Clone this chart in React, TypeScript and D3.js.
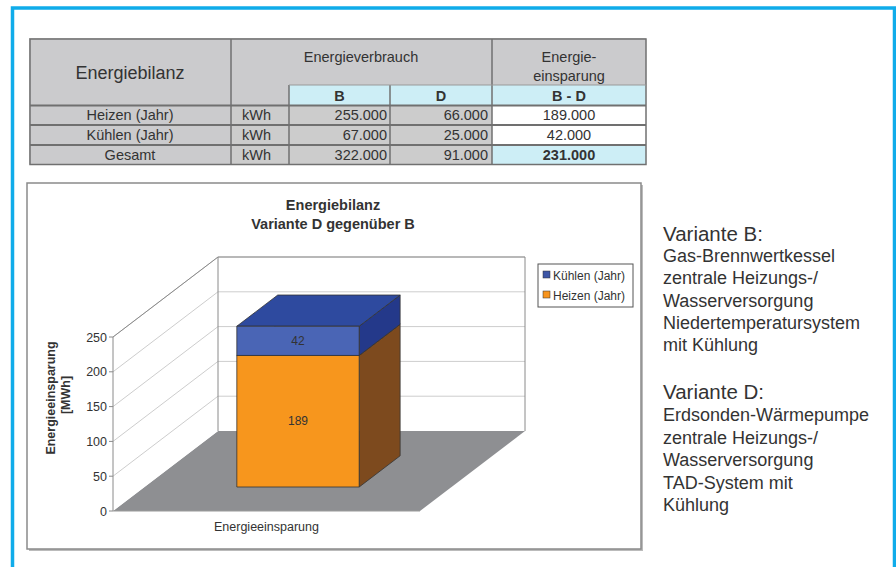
import React from 'react';
import * as d3 from 'd3';

// table data
const tableRows = ['Heizen (Jahr)', 'Kühlen (Jahr)', 'Gesamt'];
const unit = 'kWh';
const verbrauchB = [255000, 67000, 322000];
const verbrauchD = [66000, 25000, 91000];
const einsparung = [189000, 42000, 231000];

// chart data (MWh)
const categories = ['Energieeinsparung'];
const seriesNames = ['Heizen (Jahr)', 'Kühlen (Jahr)'];
const heizen = [189];
const kuehlen = [42];
const yTicks = [0, 50, 100, 150, 200, 250];

const variantB = ['Gas-Brennwertkessel', 'zentrale Heizungs-/', 'Wasserversorgung', 'Niedertemperatursystem', 'mit Kühlung'];
const variantD = ['Erdsonden-Wärmepumpe', 'zentrale Heizungs-/', 'Wasserversorgung', 'TAD-System mit', 'Kühlung'];

const FONT = '"Liberation Sans", Arial, sans-serif';
const TXT = '#333';
const GRAY = '#cbcbcd';
const CYAN = '#cdeef6';
const LINE = '#707070';

const de = d3.formatLocale({ decimal: ',', thousands: '.', grouping: [3], currency: ['', '€'] });
const fmt = de.format(',d');

const colors = {
  heizen: { front: '#f7961d', side: '#7d4a1e', top: '#f7961d' },
  kuehlen: { front: '#4a65b5', side: '#24398a', top: '#2e4a9f' },
};

function Table() {
  const cx = [30, 231, 289, 390, 492, 646];
  const ry = [39, 85, 105.5, 125, 145, 164.5];
  const cells: JSX.Element[] = [];
  tableRows.forEach((name, i) => {
    const y0 = ry[i + 2];
    const y1 = ry[i + 3];
    const bl = (y0 + y1) / 2 + 5;
    const last = i === tableRows.length - 1;
    cells.push(
      <g key={name}>
        <rect x={cx[0]} y={y0} width={cx[1] - cx[0]} height={y1 - y0} fill={GRAY} />
        <rect x={cx[4]} y={y0} width={cx[5] - cx[4]} height={y1 - y0} fill={last ? CYAN : '#fff'} />
        <text x={130} y={bl} textAnchor="middle">{name}</text>
        <text x={242} y={bl}>{unit}</text>
        <text x={387} y={bl} textAnchor="end">{fmt(verbrauchB[i])}</text>
        <text x={488} y={bl} textAnchor="end">{fmt(verbrauchD[i])}</text>
        <text x={569} y={bl} textAnchor="middle" fontWeight={last ? 'bold' : 'normal'}>{fmt(einsparung[i])}</text>
      </g>
    );
  });
  return (
    <g fontFamily={FONT} fontSize={14.5} fill={TXT}>
      <rect x={cx[0] - 1} y={ry[0] - 1} width={cx[5] - cx[0] + 1} height={ry[5] - ry[0] + 1} fill="#999" opacity={0.5} />
      <rect x={cx[0]} y={ry[0]} width={cx[5] - cx[0]} height={ry[2] - ry[0]} fill={GRAY} />
      <rect x={cx[2]} y={ry[1]} width={cx[5] - cx[2]} height={ry[2] - ry[1]} fill={CYAN} />
      {cells}
      <text x={130} y={79} textAnchor="middle" fontSize={18}>Energiebilanz</text>
      <text x={361} y={62} textAnchor="middle">Energieverbrauch</text>
      <text x={569} y={62} textAnchor="middle">Energie-</text>
      <text x={569} y={81} textAnchor="middle">einsparung</text>
      <text x={339.5} y={100.5} textAnchor="middle" fontWeight="bold">B</text>
      <text x={441} y={100.5} textAnchor="middle" fontWeight="bold">D</text>
      <text x={569} y={100.5} textAnchor="middle" fontWeight="bold">B - D</text>
      <g stroke={LINE} strokeWidth={1.5} fill="none">
        <rect x={cx[0]} y={ry[0]} width={cx[5] - cx[0]} height={ry[5] - ry[0]} />
        <line x1={cx[1]} x2={cx[1]} y1={ry[0]} y2={ry[5]} />
        <line x1={cx[4]} x2={cx[4]} y1={ry[0]} y2={ry[5]} />
        <line x1={cx[2]} x2={cx[2]} y1={ry[1]} y2={ry[5]} />
        <line x1={cx[3]} x2={cx[3]} y1={ry[1]} y2={ry[5]} />
        {[ry[2], ry[3], ry[4]].map((y) => (
          <line key={y} x1={cx[0]} x2={cx[5]} y1={y} y2={y} strokeWidth={2} />
        ))}
        <line x1={cx[2]} x2={cx[5]} y1={ry[1]} y2={ry[1]} stroke="#999" strokeWidth={1} />
      </g>
    </g>
  );
}

function Chart() {
  const y = d3.scaleLinear().domain([0, 250]).range([511, 337]);
  const x = d3.scaleBand().domain(categories).range([113, 420]).padding(0.43);
  const depth = d3.scaleLinear().domain([0, 1]).range([0, 1]);
  const DX = 105;
  const DY = -80;
  const P = (px: number, v: number, z: number): [number, number] => [px + DX * depth(z), y(v) + DY * depth(z)];
  const pts = (arr: [number, number][]) => arr.map((p) => p.join(',')).join(' ');

  const x0 = 113;
  const x1 = 420;
  const backWall = pts([P(x0, 0, 1), P(x1, 0, 1), P(x1, 250, 1), P(x0, 250, 1)]);
  const sideWall = pts([P(x0, 0, 0), P(x0, 0, 1), P(x0, 250, 1), P(x0, 250, 0)]);
  const floor = pts([P(x0, 0, 0), P(x1, 0, 0), P(x1, 0, 1), P(x0, 0, 1)]);

  const z0 = 0.3;
  const z1 = 0.69;
  const box = (bx0: number, bx1: number, v0: number, v1: number, c: { front: string; side: string; top: string }, key: string) => (
    <g key={key} stroke="#333" strokeWidth={0.8} strokeLinejoin="round">
      <polygon points={pts([P(bx1, v0, z0), P(bx1, v0, z1), P(bx1, v1, z1), P(bx1, v1, z0)])} fill={c.side} />
      <polygon points={pts([P(bx0, v1, z0), P(bx1, v1, z0), P(bx1, v1, z1), P(bx0, v1, z1)])} fill={c.top} />
      <polygon points={pts([P(bx0, v0, z0), P(bx1, v0, z0), P(bx1, v1, z0), P(bx0, v1, z0)])} fill={c.front} />
    </g>
  );

  const bars = categories.map((cat, i) => {
    const bx0 = x(cat)!;
    const bx1 = bx0 + x.bandwidth();
    const h = heizen[i];
    const k = kuehlen[i];
    const [fx0] = P(bx0, 0, z0);
    const [fx1] = P(bx1, 0, z0);
    const mx = (fx0 + fx1) / 2;
    return (
      <g key={cat}>
        {box(bx0, bx1, 0, h, colors.heizen, 'h')}
        {box(bx0, bx1, h, h + k, colors.kuehlen, 'k')}
        <text x={mx} y={P(bx0, h / 2, z0)[1] + 4} textAnchor="middle" fontSize={12} fill={TXT}>{h}</text>
        <text x={mx} y={P(bx0, h + k / 2, z0)[1] + 4} textAnchor="middle" fontSize={12} fill={TXT}>{k}</text>
      </g>
    );
  });

  const legendItems = [
    { name: seriesNames[1], color: '#3d56a6' },
    { name: seriesNames[0], color: '#f7941d' },
  ];

  return (
    <g fontFamily={FONT} fill={TXT}>
      <rect x={29} y={185} width={614} height={366} fill="#bbb" />
      <rect x={27} y={183} width={614} height={366} fill="#fff" stroke="#8a8a8a" strokeWidth={1.5} />
      <text x={333} y={210} textAnchor="middle" fontSize={14.5} fontWeight="bold">Energiebilanz</text>
      <text x={333} y={229} textAnchor="middle" fontSize={14.5} fontWeight="bold">Variante D gegenüber B</text>

      <polygon points={floor} fill="#8e8f92" />
      <polygon points={backWall} fill="#fff" />
      <polygon points={sideWall} fill="#fff" />
      {yTicks.slice(1).map((t) => (
        <g key={t} stroke="#cdcdcd" strokeWidth={1}>
          <line x1={P(x0, t, 1)[0]} y1={P(x0, t, 1)[1]} x2={P(x1, t, 1)[0]} y2={P(x1, t, 1)[1]} />
          <line x1={P(x0, t, 0)[0]} y1={P(x0, t, 0)[1]} x2={P(x0, t, 1)[0]} y2={P(x0, t, 1)[1]} />
        </g>
      ))}
      <g stroke="#8a8a8a" strokeWidth={1} fill="none">
        <polyline points={pts([P(x0, 0, 1), P(x0, 250, 1), P(x1, 250, 1), P(x1, 0, 1)])} />
        <line x1={P(x0, 250, 0)[0]} y1={P(x0, 250, 0)[1]} x2={P(x0, 250, 1)[0]} y2={P(x0, 250, 1)[1]} />
        <line x1={x0} y1={y(0)} x2={x0} y2={y(250)} />
        {yTicks.map((t) => (
          <line key={t} x1={x0 - 4} x2={x0} y1={y(t)} y2={y(t)} />
        ))}
      </g>
      <line x1={x0} y1={y(0)} x2={x1} y2={y(0)} stroke="#9a9a9a" strokeWidth={1} />
      {yTicks.map((t) => (
        <text key={t} x={x0 - 6} y={y(t) + 4.5} textAnchor="end" fontSize={12.5}>{t}</text>
      ))}

      {bars}

      <text x={(x0 + x1) / 2} y={531} textAnchor="middle" fontSize={12.5}>{categories[0]}</text>
      <text transform="translate(55,398) rotate(-90)" textAnchor="middle" fontSize={12.5} fontWeight="bold">Energieeinsparung</text>
      <text transform="translate(70,395) rotate(-90)" textAnchor="middle" fontSize={12.5} fontWeight="bold">[MWh]</text>

      <rect x={538} y={264} width={95} height={43} fill="#fff" stroke="#555" strokeWidth={1} />
      {legendItems.map((d, i) => (
        <g key={d.name}>
          <rect x={543} y={271 + i * 20} width={7} height={7} fill={d.color} stroke="#333" strokeWidth={0.5} />
          <text x={553} y={279.5 + i * 20} fontSize={12}>{d.name}</text>
        </g>
      ))}
    </g>
  );
}

function SideText() {
  return (
    <g fontFamily={FONT} fill={TXT}>
      <text x={663} y={241} fontSize={20.5}>Variante B:</text>
      {variantB.map((s, i) => (
        <text key={'b' + i} x={663} y={262 + i * 22.3} fontSize={18}>{s}</text>
      ))}
      <text x={663} y={399} fontSize={20.5}>Variante D:</text>
      {variantD.map((s, i) => (
        <text key={'d' + i} x={663} y={421 + i * 22.5} fontSize={18}>{s}</text>
      ))}
    </g>
  );
}

export default function App() {
  return (
    <svg width={896} height={567} style={{ position: 'absolute', left: 0, top: 0, background: '#fff' }}>
      <rect x={0} y={0} width={896} height={567} fill="#fff" />
      <polyline points="12.5,567 12.5,8 894.5,8 894.5,567" fill="none" stroke="#10acea" strokeWidth={3.5} />
      <Table />
      <Chart />
      <SideText />
    </svg>
  );
}
